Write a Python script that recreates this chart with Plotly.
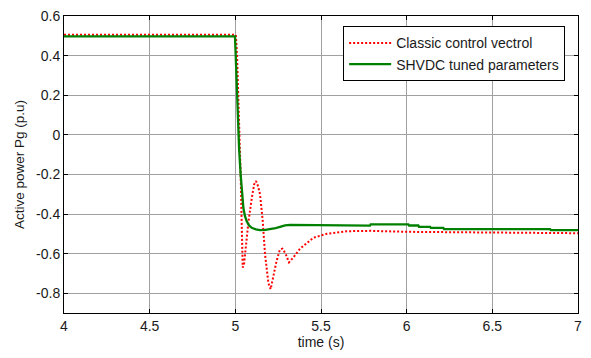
import plotly.graph_objects as go

# Classic control vectrol (red dotted)
t_classic = [4.0, 5.003, 5.010, 5.016, 5.021, 5.026, 5.031, 5.036, 5.039, 5.043,
             5.050, 5.057, 5.077, 5.096, 5.110, 5.121, 5.133, 5.144, 5.160, 5.173,
             5.193, 5.206, 5.220, 5.240, 5.260, 5.275, 5.293, 5.313, 5.338, 5.377,
             5.455, 5.533, 5.650, 5.786, 6.000, 6.200, 6.500, 7.000]
p_classic = [0.505, 0.505, 0.40, 0.25, 0.05, -0.07, -0.20, -0.40, -0.55, -0.67,
             -0.66, -0.60, -0.436, -0.32, -0.25, -0.234, -0.26, -0.30, -0.436, -0.60,
             -0.75, -0.78, -0.72, -0.64, -0.58, -0.575, -0.60, -0.644, -0.62, -0.576,
             -0.52, -0.50, -0.487, -0.485, -0.49, -0.492, -0.494, -0.497]

# SHVDC tuned parameters (green solid)
t_tuned = [4.0, 4.998, 5.003, 5.008, 5.014, 5.022, 5.031, 5.039, 5.047, 5.056,
           5.066, 5.080, 5.096, 5.120, 5.144, 5.175, 5.203, 5.235, 5.261, 5.290,
           5.320, 5.450, 5.582, 5.586, 5.786, 5.790, 6.010, 6.014, 6.068, 6.072,
           6.137, 6.141, 6.214, 6.218, 6.837, 6.841, 7.000]
p_tuned = [0.497, 0.497, 0.38, 0.25, 0.11, -0.07, -0.20, -0.29, -0.37, -0.41,
           -0.436, -0.458, -0.470, -0.478, -0.481, -0.480, -0.477, -0.471, -0.465, -0.458,
           -0.455, -0.456, -0.456, -0.459, -0.459, -0.452, -0.452, -0.458, -0.458, -0.465,
           -0.465, -0.470, -0.470, -0.476, -0.476, -0.481, -0.481]

x_ticks = [4, 4.5, 5, 5.5, 6, 6.5, 7]
x_labels = ["4", "4.5", "5", "5.5", "6", "6.5", "7"]
y_ticks = [-0.8, -0.6, -0.4, -0.2, 0, 0.2, 0.4, 0.6]
y_labels = ["-0.8", "-0.6", "-0.4", "-0.2", "0", "0.2", "0.4", "0.6"]

font_family = "Liberation Sans, Arial, sans-serif"
txt = "#1a1a1a"

fig = go.Figure()
fig.add_trace(go.Scatter(x=t_classic, y=p_classic, mode="lines",
                         name="Classic control vectrol",
                         line=dict(color="#ff0000", width=2, dash="2px,2px")))
fig.add_trace(go.Scatter(x=t_tuned, y=p_tuned, mode="lines",
                         name="SHVDC tuned parameters",
                         line=dict(color="#008000", width=2.3)))

axis_common = dict(showline=True, linecolor="black", linewidth=1, mirror="ticks",
                   ticks="inside", ticklen=4, tickcolor="black",
                   showgrid=True, gridcolor="#a0a0a0", gridwidth=1,
                   zeroline=False, automargin=False, ticklabeloverflow="allow",
                   tickfont=dict(size=14, color=txt))

fig.update_xaxes(range=[4, 7], tickvals=x_ticks, ticktext=x_labels,
                 title=dict(text="time (s)", font=dict(size=14, color=txt), standoff=4),
                 **axis_common)
fig.update_yaxes(range=[-0.9, 0.6], tickvals=y_ticks, ticktext=y_labels,
                 title=dict(text="Active power Pg (p.u)", font=dict(size=13.5, color=txt), standoff=8),
                 **axis_common)

# page body has an 8px margin; compensate so the plot area lands where the reference has it
fig.update_layout(
    width=583, height=350,
    margin=dict(l=56, r=13, t=8, b=45),
    paper_bgcolor="white", plot_bgcolor="white",
    font=dict(family=font_family, size=14, color=txt),
    legend=dict(x=0.975, y=0.965, xanchor="right", yanchor="top",
                bgcolor="white", bordercolor="black", borderwidth=1,
                itemwidth=42,
                font=dict(size=14, color=txt), tracegroupgap=0),
    showlegend=True,
)

fig.write_html("out.html")
